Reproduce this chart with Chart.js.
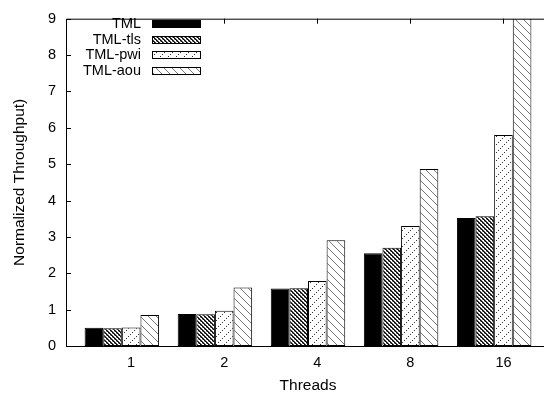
<!DOCTYPE html>
<html>
<head>
<meta charset="utf-8">
<script src="https://cdn.jsdelivr.net/npm/chart.js@4"></script>
<style>
  html, body { margin: 0; padding: 0; background: #fff; overflow: hidden; }
  #wrap { width: 550px; height: 398px; }
</style>
</head>
<body>
<div id="wrap"><canvas id="tputChart" width="550" height="398"></canvas></div>
<script>
// thread counts on the x axis
const threads = ['1', '2', '4', '8', '16'];
// normalized throughput per variant
const tml    = [0.50, 0.88, 1.58, 2.55, 3.52];
const tmlTls = [0.49, 0.87, 1.59, 2.70, 3.57];
const tmlPwi = [0.51, 0.97, 1.79, 3.30, 5.80];
const tmlAou = [0.85, 1.61, 2.91, 4.87, 9.00];
const yTicks = [0, 1, 2, 3, 4, 5, 6, 7, 8, 9];

// gnuplot puts the tic a bit right of the cluster centre
const TICK_SHIFT = 0.1;
const FONT = 'Liberation Sans, Arial, Helvetica, sans-serif';

function makePattern(size, paint) {
    const c = document.createElement('canvas');
    c.width = size; c.height = size;
    const g = c.getContext('2d');
    g.fillStyle = '#fff';
    g.fillRect(0, 0, size, size);
    for (let y = 0; y < size; y++) {
        for (let x = 0; x < size; x++) {
            const col = paint(x, y);
            if (col) { g.fillStyle = col; g.fillRect(x, y, 1, 1); }
        }
    }
    return g.createPattern(c, 'repeat');
}

const ctx = document.getElementById('tputChart').getContext('2d');

// dense cross hatch, sparse dotted "/" and thin "\" lines
const patTls = makePattern(4, (x, y) => {
    const d = ((x - y) % 4 + 4) % 4;
    if (d === 0) return '#000';
    if (d === 1) return '#444';
    return (x + y) % 4 === 1 ? '#999' : null;
});
const patPwi = makePattern(8, (x, y) => ((x + y) % 8 === 0 && x % 2 === 0) ? '#333' : null);
const patAou = makePattern(8, (x, y) => (((x - y) % 8 + 8) % 8 === 0) ? '#777' : null);

const toPoints = arr => arr.map((v, i) => ({ x: i, y: v }));

const series = [
    { label: 'TML',     data: tml,    fill: '#000' },
    { label: 'TML-tls', data: tmlTls, fill: patTls },
    { label: 'TML-pwi', data: tmlPwi, fill: patPwi },
    { label: 'TML-aou', data: tmlAou, fill: patAou }
];

// border, inward tics and the key, drawn gnuplot style
const gnuFrame = {
    id: 'gnuFrame',
    beforeDatasetsDraw(chart) {
        const { ctx: c, chartArea: a, scales } = chart;
        c.save();
        c.strokeStyle = '#000';
        c.lineWidth = 1;
        c.beginPath();
        c.moveTo(a.left + 0.5, a.top + 0.5);
        c.lineTo(a.left + 0.5, a.bottom + 0.5);
        c.lineTo(a.right, a.bottom + 0.5);
        c.moveTo(a.left + 0.5, a.top + 0.5);
        c.lineTo(a.right, a.top + 0.5);
        yTicks.forEach(v => {
            const py = Math.round(scales.y.getPixelForValue(v)) + 0.5;
            c.moveTo(a.left, py);
            c.lineTo(a.left + 5, py);
        });
        threads.forEach((t, i) => {
            const px = Math.round(scales.x.getPixelForValue(i + TICK_SHIFT)) + 0.5;
            c.moveTo(px, a.top);
            c.lineTo(px, a.top + 5);
        });
        c.stroke();
        c.restore();
    },
    afterDraw(chart) {
        const c = chart.ctx;
        c.save();
        c.font = '14.5px ' + FONT;
        c.textAlign = 'right';
        c.textBaseline = 'middle';
        chart.data.datasets.forEach((ds, i) => {
            const cy = 23.7 + i * 15.8;
            c.fillStyle = '#000';
            c.fillText(ds.label, 141, cy);
            c.fillStyle = ds.backgroundColor;
            c.fillRect(152, Math.round(cy - 4), 49, 8);
            c.strokeStyle = '#000';
            c.lineWidth = 1;
            c.strokeRect(152.5, Math.round(cy - 4) + 0.5, 48, 7);
        });
        c.restore();
    }
};

new Chart(ctx, {
    type: 'bar',
    data: {
        datasets: series.map(s => ({
            label: s.label,
            data: toPoints(s.data),
            backgroundColor: s.fill,
            borderColor: '#000',
            borderWidth: 1,
            borderSkipped: false,
            barPercentage: 1.0,
            categoryPercentage: 0.8
        }))
    },
    options: {
        responsive: false,
        animation: false,
        layout: { padding: { top: 11, right: 0, bottom: 0, left: 0 } },
        plugins: {
            legend: { display: false },
            tooltip: { enabled: false }
        },
        scales: {
            x: {
                type: 'linear',
                min: -0.6,
                max: 4.6,
                offset: false,
                grid: { display: false, drawTicks: false },
                border: { display: false },
                afterBuildTicks: scale => {
                    scale.ticks = threads.map((_, i) => ({ value: i + TICK_SHIFT }));
                },
                afterFit: scale => { scale.height = 52; },
                ticks: {
                    padding: 8,
                    color: '#000',
                    font: { family: FONT, size: 14.5 },
                    callback: v => threads[Math.round(v - TICK_SHIFT)]
                },
                title: {
                    display: true,
                    text: 'Threads',
                    color: '#000',
                    font: { family: FONT, size: 15.5 },
                    padding: { top: 0, bottom: 3 }
                }
            },
            y: {
                min: 0,
                max: 9,
                grid: { display: false, drawTicks: false },
                border: { display: false },
                afterFit: scale => { scale.width = 66; },
                ticks: {
                    stepSize: 1,
                    padding: 10,
                    color: '#000',
                    font: { family: FONT, size: 14.5 }
                },
                title: {
                    display: true,
                    text: 'Normalized Throughput)',
                    color: '#000',
                    font: { family: FONT, size: 15.5 },
                    padding: { top: 10, bottom: 0 }
                }
            }
        }
    },
    plugins: [gnuFrame]
});
</script>
</body>
</html>
